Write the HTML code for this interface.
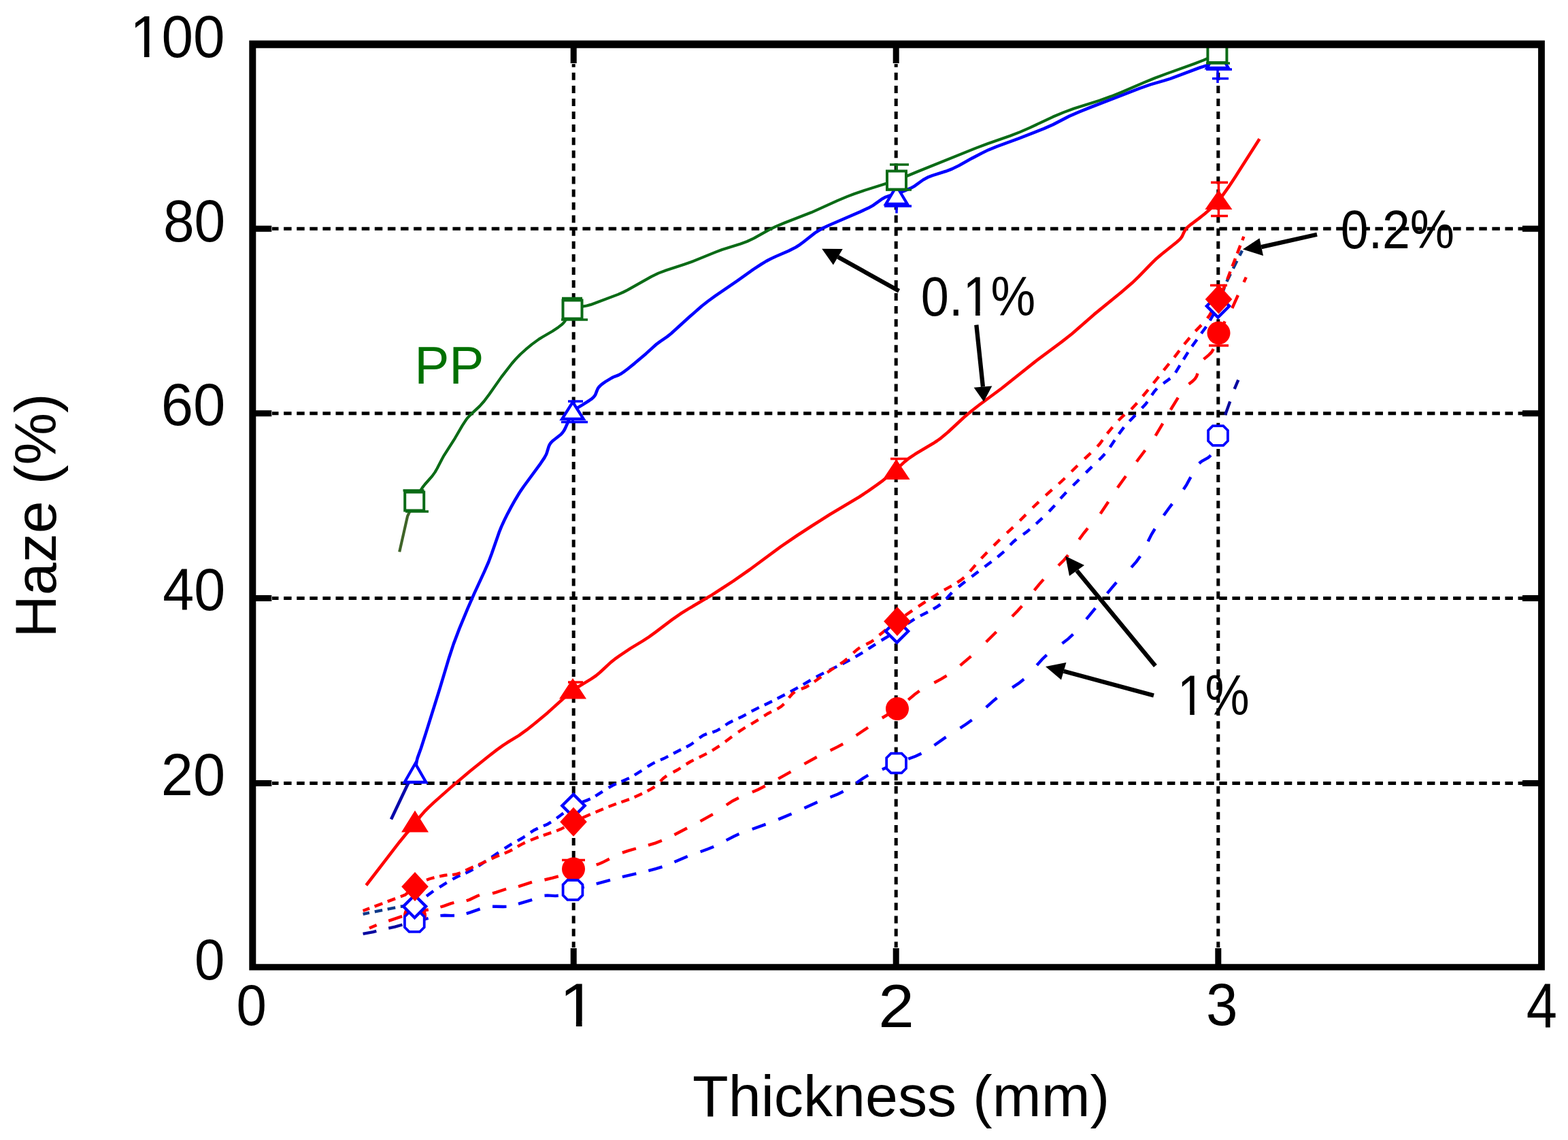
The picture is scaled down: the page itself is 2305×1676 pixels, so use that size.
<!DOCTYPE html>
<html><head><meta charset="utf-8"><title>Haze vs Thickness</title><style>html,body{margin:0;padding:0;background:#fff;overflow:hidden}svg{display:block}</style></head><body>
<svg xmlns="http://www.w3.org/2000/svg" width="2305" height="1676" viewBox="0 0 2305 1676" font-family="'Liberation Sans', Arial, sans-serif" font-size="100">
<defs><clipPath id="k0" clipPathUnits="userSpaceOnUse"><path clip-rule="evenodd" d="M-100,-200H1200V200H-100ZM6.50,-8.3H25.10V2H6.50ZM34.00,-8.3H52.00V2H34.00Z"/></clipPath><clipPath id="k1" clipPathUnits="userSpaceOnUse"><path clip-rule="evenodd" d="M-100,-200H1200V200H-100ZM6.50,-8.3H25.10V2H6.50ZM34.00,-8.3H52.00V2H34.00Z"/></clipPath><clipPath id="k2" clipPathUnits="userSpaceOnUse"><path clip-rule="evenodd" d="M-100,-200H1200V200H-100ZM89.90,-8.3H108.50V2H89.90ZM117.40,-8.3H135.40V2H117.40Z"/></clipPath><clipPath id="k3" clipPathUnits="userSpaceOnUse"><path clip-rule="evenodd" d="M-100,-200H1200V200H-100ZM6.50,-8.3H25.10V2H6.50ZM34.00,-8.3H52.00V2H34.00Z"/></clipPath></defs>
<rect width="2305" height="1676" fill="#fff"/>
<path d="M400.0,336.2H409.5M417.1,336.2H428.6M436.2,336.2H447.7M455.3,336.2H466.8M474.4,336.2H485.9M493.5,336.2H505.0M512.6,336.2H524.1M531.7,336.2H543.2M550.8,336.2H562.3M569.9,336.2H581.4M589.0,336.2H600.5M608.1,336.2H619.6M627.2,336.2H638.7M646.3,336.2H657.8M665.4,336.2H676.9M684.5,336.2H696.0M703.6,336.2H715.1M722.7,336.2H734.2M741.8,336.2H753.3M760.9,336.2H772.4M780.0,336.2H791.5M799.1,336.2H810.6M818.2,336.2H829.7M837.3,336.2H848.8M856.4,336.2H867.9M875.5,336.2H887.0M894.6,336.2H906.1M913.7,336.2H925.2M932.8,336.2H944.3M951.9,336.2H963.4M971.0,336.2H982.5M990.1,336.2H1001.6M1009.2,336.2H1020.7M1028.3,336.2H1039.8M1047.4,336.2H1058.9M1066.5,336.2H1078.0M1085.6,336.2H1097.1M1104.7,336.2H1116.2M1123.8,336.2H1135.3M1142.9,336.2H1154.4M1162.0,336.2H1173.5M1181.1,336.2H1192.6M1200.2,336.2H1211.7M1219.3,336.2H1230.8M1238.4,336.2H1249.9M1257.5,336.2H1269.0M1276.6,336.2H1288.1M1295.7,336.2H1307.2M1314.8,336.2H1326.3M1333.9,336.2H1345.4M1353.0,336.2H1364.5M1372.1,336.2H1383.6M1391.2,336.2H1402.7M1410.3,336.2H1421.8M1429.4,336.2H1440.9M1448.5,336.2H1460.0M1467.6,336.2H1479.1M1486.7,336.2H1498.2M1505.8,336.2H1517.3M1524.9,336.2H1536.4M1544.0,336.2H1555.5M1563.1,336.2H1574.6M1582.2,336.2H1593.7M1601.3,336.2H1612.8M1620.4,336.2H1631.9M1639.5,336.2H1651.0M1658.6,336.2H1670.1M1677.7,336.2H1689.2M1696.8,336.2H1708.3M1715.9,336.2H1727.4M1735.0,336.2H1746.5M1754.1,336.2H1765.6M1773.2,336.2H1784.7M1792.3,336.2H1803.8M1811.4,336.2H1822.9M1830.5,336.2H1842.0M1849.6,336.2H1861.1M1868.7,336.2H1880.2M1887.8,336.2H1899.3M1906.9,336.2H1918.4M1926.0,336.2H1937.5M1945.1,336.2H1956.6M1964.2,336.2H1975.7M1983.3,336.2H1994.8M2002.4,336.2H2013.9M2021.5,336.2H2033.0M2040.6,336.2H2052.1M2059.7,336.2H2071.2M2078.8,336.2H2090.3M2097.9,336.2H2109.4M2117.0,336.2H2128.5M2136.1,336.2H2147.6M2155.2,336.2H2166.7M2174.3,336.2H2185.8M2193.4,336.2H2204.9M2212.5,336.2H2224.0M2231.6,336.2H2238.0M400.0,607.8H409.5M417.1,607.8H428.6M436.2,607.8H447.7M455.3,607.8H466.8M474.4,607.8H485.9M493.5,607.8H505.0M512.6,607.8H524.1M531.7,607.8H543.2M550.8,607.8H562.3M569.9,607.8H581.4M589.0,607.8H600.5M608.1,607.8H619.6M627.2,607.8H638.7M646.3,607.8H657.8M665.4,607.8H676.9M684.5,607.8H696.0M703.6,607.8H715.1M722.7,607.8H734.2M741.8,607.8H753.3M760.9,607.8H772.4M780.0,607.8H791.5M799.1,607.8H810.6M818.2,607.8H829.7M837.3,607.8H848.8M856.4,607.8H867.9M875.5,607.8H887.0M894.6,607.8H906.1M913.7,607.8H925.2M932.8,607.8H944.3M951.9,607.8H963.4M971.0,607.8H982.5M990.1,607.8H1001.6M1009.2,607.8H1020.7M1028.3,607.8H1039.8M1047.4,607.8H1058.9M1066.5,607.8H1078.0M1085.6,607.8H1097.1M1104.7,607.8H1116.2M1123.8,607.8H1135.3M1142.9,607.8H1154.4M1162.0,607.8H1173.5M1181.1,607.8H1192.6M1200.2,607.8H1211.7M1219.3,607.8H1230.8M1238.4,607.8H1249.9M1257.5,607.8H1269.0M1276.6,607.8H1288.1M1295.7,607.8H1307.2M1314.8,607.8H1326.3M1333.9,607.8H1345.4M1353.0,607.8H1364.5M1372.1,607.8H1383.6M1391.2,607.8H1402.7M1410.3,607.8H1421.8M1429.4,607.8H1440.9M1448.5,607.8H1460.0M1467.6,607.8H1479.1M1486.7,607.8H1498.2M1505.8,607.8H1517.3M1524.9,607.8H1536.4M1544.0,607.8H1555.5M1563.1,607.8H1574.6M1582.2,607.8H1593.7M1601.3,607.8H1612.8M1620.4,607.8H1631.9M1639.5,607.8H1651.0M1658.6,607.8H1670.1M1677.7,607.8H1689.2M1696.8,607.8H1708.3M1715.9,607.8H1727.4M1735.0,607.8H1746.5M1754.1,607.8H1765.6M1773.2,607.8H1784.7M1792.3,607.8H1803.8M1811.4,607.8H1822.9M1830.5,607.8H1842.0M1849.6,607.8H1861.1M1868.7,607.8H1880.2M1887.8,607.8H1899.3M1906.9,607.8H1918.4M1926.0,607.8H1937.5M1945.1,607.8H1956.6M1964.2,607.8H1975.7M1983.3,607.8H1994.8M2002.4,607.8H2013.9M2021.5,607.8H2033.0M2040.6,607.8H2052.1M2059.7,607.8H2071.2M2078.8,607.8H2090.3M2097.9,607.8H2109.4M2117.0,607.8H2128.5M2136.1,607.8H2147.6M2155.2,607.8H2166.7M2174.3,607.8H2185.8M2193.4,607.8H2204.9M2212.5,607.8H2224.0M2231.6,607.8H2238.0M400.0,879.6H409.5M417.1,879.6H428.6M436.2,879.6H447.7M455.3,879.6H466.8M474.4,879.6H485.9M493.5,879.6H505.0M512.6,879.6H524.1M531.7,879.6H543.2M550.8,879.6H562.3M569.9,879.6H581.4M589.0,879.6H600.5M608.1,879.6H619.6M627.2,879.6H638.7M646.3,879.6H657.8M665.4,879.6H676.9M684.5,879.6H696.0M703.6,879.6H715.1M722.7,879.6H734.2M741.8,879.6H753.3M760.9,879.6H772.4M780.0,879.6H791.5M799.1,879.6H810.6M818.2,879.6H829.7M837.3,879.6H848.8M856.4,879.6H867.9M875.5,879.6H887.0M894.6,879.6H906.1M913.7,879.6H925.2M932.8,879.6H944.3M951.9,879.6H963.4M971.0,879.6H982.5M990.1,879.6H1001.6M1009.2,879.6H1020.7M1028.3,879.6H1039.8M1047.4,879.6H1058.9M1066.5,879.6H1078.0M1085.6,879.6H1097.1M1104.7,879.6H1116.2M1123.8,879.6H1135.3M1142.9,879.6H1154.4M1162.0,879.6H1173.5M1181.1,879.6H1192.6M1200.2,879.6H1211.7M1219.3,879.6H1230.8M1238.4,879.6H1249.9M1257.5,879.6H1269.0M1276.6,879.6H1288.1M1295.7,879.6H1307.2M1314.8,879.6H1326.3M1333.9,879.6H1345.4M1353.0,879.6H1364.5M1372.1,879.6H1383.6M1391.2,879.6H1402.7M1410.3,879.6H1421.8M1429.4,879.6H1440.9M1448.5,879.6H1460.0M1467.6,879.6H1479.1M1486.7,879.6H1498.2M1505.8,879.6H1517.3M1524.9,879.6H1536.4M1544.0,879.6H1555.5M1563.1,879.6H1574.6M1582.2,879.6H1593.7M1601.3,879.6H1612.8M1620.4,879.6H1631.9M1639.5,879.6H1651.0M1658.6,879.6H1670.1M1677.7,879.6H1689.2M1696.8,879.6H1708.3M1715.9,879.6H1727.4M1735.0,879.6H1746.5M1754.1,879.6H1765.6M1773.2,879.6H1784.7M1792.3,879.6H1803.8M1811.4,879.6H1822.9M1830.5,879.6H1842.0M1849.6,879.6H1861.1M1868.7,879.6H1880.2M1887.8,879.6H1899.3M1906.9,879.6H1918.4M1926.0,879.6H1937.5M1945.1,879.6H1956.6M1964.2,879.6H1975.7M1983.3,879.6H1994.8M2002.4,879.6H2013.9M2021.5,879.6H2033.0M2040.6,879.6H2052.1M2059.7,879.6H2071.2M2078.8,879.6H2090.3M2097.9,879.6H2109.4M2117.0,879.6H2128.5M2136.1,879.6H2147.6M2155.2,879.6H2166.7M2174.3,879.6H2185.8M2193.4,879.6H2204.9M2212.5,879.6H2224.0M2231.6,879.6H2238.0M400.0,1151.4H409.5M417.1,1151.4H428.6M436.2,1151.4H447.7M455.3,1151.4H466.8M474.4,1151.4H485.9M493.5,1151.4H505.0M512.6,1151.4H524.1M531.7,1151.4H543.2M550.8,1151.4H562.3M569.9,1151.4H581.4M589.0,1151.4H600.5M608.1,1151.4H619.6M627.2,1151.4H638.7M646.3,1151.4H657.8M665.4,1151.4H676.9M684.5,1151.4H696.0M703.6,1151.4H715.1M722.7,1151.4H734.2M741.8,1151.4H753.3M760.9,1151.4H772.4M780.0,1151.4H791.5M799.1,1151.4H810.6M818.2,1151.4H829.7M837.3,1151.4H848.8M856.4,1151.4H867.9M875.5,1151.4H887.0M894.6,1151.4H906.1M913.7,1151.4H925.2M932.8,1151.4H944.3M951.9,1151.4H963.4M971.0,1151.4H982.5M990.1,1151.4H1001.6M1009.2,1151.4H1020.7M1028.3,1151.4H1039.8M1047.4,1151.4H1058.9M1066.5,1151.4H1078.0M1085.6,1151.4H1097.1M1104.7,1151.4H1116.2M1123.8,1151.4H1135.3M1142.9,1151.4H1154.4M1162.0,1151.4H1173.5M1181.1,1151.4H1192.6M1200.2,1151.4H1211.7M1219.3,1151.4H1230.8M1238.4,1151.4H1249.9M1257.5,1151.4H1269.0M1276.6,1151.4H1288.1M1295.7,1151.4H1307.2M1314.8,1151.4H1326.3M1333.9,1151.4H1345.4M1353.0,1151.4H1364.5M1372.1,1151.4H1383.6M1391.2,1151.4H1402.7M1410.3,1151.4H1421.8M1429.4,1151.4H1440.9M1448.5,1151.4H1460.0M1467.6,1151.4H1479.1M1486.7,1151.4H1498.2M1505.8,1151.4H1517.3M1524.9,1151.4H1536.4M1544.0,1151.4H1555.5M1563.1,1151.4H1574.6M1582.2,1151.4H1593.7M1601.3,1151.4H1612.8M1620.4,1151.4H1631.9M1639.5,1151.4H1651.0M1658.6,1151.4H1670.1M1677.7,1151.4H1689.2M1696.8,1151.4H1708.3M1715.9,1151.4H1727.4M1735.0,1151.4H1746.5M1754.1,1151.4H1765.6M1773.2,1151.4H1784.7M1792.3,1151.4H1803.8M1811.4,1151.4H1822.9M1830.5,1151.4H1842.0M1849.6,1151.4H1861.1M1868.7,1151.4H1880.2M1887.8,1151.4H1899.3M1906.9,1151.4H1918.4M1926.0,1151.4H1937.5M1945.1,1151.4H1956.6M1964.2,1151.4H1975.7M1983.3,1151.4H1994.8M2002.4,1151.4H2013.9M2021.5,1151.4H2033.0M2040.6,1151.4H2052.1M2059.7,1151.4H2071.2M2078.8,1151.4H2090.3M2097.9,1151.4H2109.4M2117.0,1151.4H2128.5M2136.1,1151.4H2147.6M2155.2,1151.4H2166.7M2174.3,1151.4H2185.8M2193.4,1151.4H2204.9M2212.5,1151.4H2224.0M2231.6,1151.4H2238.0M843.2,94.0V98.8M843.2,106.8V117.8M843.2,125.9V136.9M843.2,145.0V156.0M843.2,164.1V175.1M843.2,183.1V194.1M843.2,202.2V213.2M843.2,221.3V232.3M843.2,240.3V251.3M843.2,259.4V270.4M843.2,278.5V289.5M843.2,297.6V308.6M843.2,316.6V327.6M843.2,335.7V346.7M843.2,354.8V365.8M843.2,373.8V384.8M843.2,392.9V403.9M843.2,412.0V423.0M843.2,431.0V442.0M843.2,450.1V461.1M843.2,469.2V480.2M843.2,488.2V499.2M843.2,507.3V518.3M843.2,526.4V537.4M843.2,545.5V556.5M843.2,564.5V575.5M843.2,583.6V594.6M843.2,602.7V613.7M843.2,621.7V632.7M843.2,640.8V651.8M843.2,659.9V670.9M843.2,679.0V690.0M843.2,698.0V709.0M843.2,717.1V728.1M843.2,736.2V747.2M843.2,755.2V766.2M843.2,774.3V785.3M843.2,793.4V804.4M843.2,812.4V823.4M843.2,831.5V842.5M843.2,850.6V861.6M843.2,869.6V880.6M843.2,888.7V899.7M843.2,907.8V918.8M843.2,926.9V937.9M843.2,945.9V956.9M843.2,965.0V976.0M843.2,984.1V995.1M843.2,1003.1V1014.1M843.2,1022.2V1033.2M843.2,1041.3V1052.3M843.2,1060.3V1071.3M843.2,1079.4V1090.4M843.2,1098.5V1109.5M843.2,1117.6V1128.6M843.2,1136.6V1147.6M843.2,1155.7V1166.7M843.2,1174.8V1185.8M843.2,1193.8V1204.8M843.2,1212.9V1223.9M843.2,1232.0V1243.0M843.2,1251.0V1262.0M843.2,1270.1V1281.1M843.2,1289.2V1300.2M843.2,1308.3V1319.3M843.2,1327.3V1338.3M843.2,1346.4V1357.4M843.2,1365.5V1376.5M843.2,1384.5V1393.0M1317.2,94.0V98.8M1317.2,106.8V117.8M1317.2,125.9V136.9M1317.2,145.0V156.0M1317.2,164.1V175.1M1317.2,183.1V194.1M1317.2,202.2V213.2M1317.2,221.3V232.3M1317.2,240.3V251.3M1317.2,259.4V270.4M1317.2,278.5V289.5M1317.2,297.6V308.6M1317.2,316.6V327.6M1317.2,335.7V346.7M1317.2,354.8V365.8M1317.2,373.8V384.8M1317.2,392.9V403.9M1317.2,412.0V423.0M1317.2,431.0V442.0M1317.2,450.1V461.1M1317.2,469.2V480.2M1317.2,488.2V499.2M1317.2,507.3V518.3M1317.2,526.4V537.4M1317.2,545.5V556.5M1317.2,564.5V575.5M1317.2,583.6V594.6M1317.2,602.7V613.7M1317.2,621.7V632.7M1317.2,640.8V651.8M1317.2,659.9V670.9M1317.2,679.0V690.0M1317.2,698.0V709.0M1317.2,717.1V728.1M1317.2,736.2V747.2M1317.2,755.2V766.2M1317.2,774.3V785.3M1317.2,793.4V804.4M1317.2,812.4V823.4M1317.2,831.5V842.5M1317.2,850.6V861.6M1317.2,869.6V880.6M1317.2,888.7V899.7M1317.2,907.8V918.8M1317.2,926.9V937.9M1317.2,945.9V956.9M1317.2,965.0V976.0M1317.2,984.1V995.1M1317.2,1003.1V1014.1M1317.2,1022.2V1033.2M1317.2,1041.3V1052.3M1317.2,1060.3V1071.3M1317.2,1079.4V1090.4M1317.2,1098.5V1109.5M1317.2,1117.6V1128.6M1317.2,1136.6V1147.6M1317.2,1155.7V1166.7M1317.2,1174.8V1185.8M1317.2,1193.8V1204.8M1317.2,1212.9V1223.9M1317.2,1232.0V1243.0M1317.2,1251.0V1262.0M1317.2,1270.1V1281.1M1317.2,1289.2V1300.2M1317.2,1308.3V1319.3M1317.2,1327.3V1338.3M1317.2,1346.4V1357.4M1317.2,1365.5V1376.5M1317.2,1384.5V1393.0M1790.8,94.0V98.8M1790.8,106.8V117.8M1790.8,125.9V136.9M1790.8,145.0V156.0M1790.8,164.1V175.1M1790.8,183.1V194.1M1790.8,202.2V213.2M1790.8,221.3V232.3M1790.8,240.3V251.3M1790.8,259.4V270.4M1790.8,278.5V289.5M1790.8,297.6V308.6M1790.8,316.6V327.6M1790.8,335.7V346.7M1790.8,354.8V365.8M1790.8,373.8V384.8M1790.8,392.9V403.9M1790.8,412.0V423.0M1790.8,431.0V442.0M1790.8,450.1V461.1M1790.8,469.2V480.2M1790.8,488.2V499.2M1790.8,507.3V518.3M1790.8,526.4V537.4M1790.8,545.5V556.5M1790.8,564.5V575.5M1790.8,583.6V594.6M1790.8,602.7V613.7M1790.8,621.7V632.7M1790.8,640.8V651.8M1790.8,659.9V670.9M1790.8,679.0V690.0M1790.8,698.0V709.0M1790.8,717.1V728.1M1790.8,736.2V747.2M1790.8,755.2V766.2M1790.8,774.3V785.3M1790.8,793.4V804.4M1790.8,812.4V823.4M1790.8,831.5V842.5M1790.8,850.6V861.6M1790.8,869.6V880.6M1790.8,888.7V899.7M1790.8,907.8V918.8M1790.8,926.9V937.9M1790.8,945.9V956.9M1790.8,965.0V976.0M1790.8,984.1V995.1M1790.8,1003.1V1014.1M1790.8,1022.2V1033.2M1790.8,1041.3V1052.3M1790.8,1060.3V1071.3M1790.8,1079.4V1090.4M1790.8,1098.5V1109.5M1790.8,1117.6V1128.6M1790.8,1136.6V1147.6M1790.8,1155.7V1166.7M1790.8,1174.8V1185.8M1790.8,1193.8V1204.8M1790.8,1212.9V1223.9M1790.8,1232.0V1243.0M1790.8,1251.0V1262.0M1790.8,1270.1V1281.1M1790.8,1289.2V1300.2M1790.8,1308.3V1319.3M1790.8,1327.3V1338.3M1790.8,1346.4V1357.4M1790.8,1365.5V1376.5M1790.8,1384.5V1393.0" stroke="#000" stroke-width="5" fill="none"/>
<path d="M543.0,1364.5L553.6,1359.9M571.2,1353.8L591.1,1347.1M1791.0,491.1L1791.5,489.5L1800.7,472.5M1811.3,453.1L1819.9,434.0M1828.5,414.8L1831.8,407.6" stroke="#ff0000" stroke-width="4.4" fill="none"/>
<path d="M609.4,1341.2L629.8,1337.3M647.4,1333.5L652.2,1332.1L662.5,1328.4L667.4,1327.0M685.7,1324.3L690.5,1322.6L701.1,1317.5L704.9,1316.0M724.0,1313.3L729.3,1311.8L744.1,1307.0M762.0,1303.4L782.0,1296.9M800.5,1293.5L812.6,1290.7L820.8,1288.3M838.6,1279.3L843.0,1277.5L846.6,1276.5L851.3,1275.6L858.9,1274.5M876.7,1271.4L880.8,1270.0L885.3,1268.1L895.8,1262.8M914.9,1253.7L923.9,1250.6L934.9,1247.5M953.0,1242.6L963.7,1239.3L972.9,1235.8M991.4,1227.2L1010.0,1217.5M1029.5,1207.4L1047.9,1197.2M1067.8,1183.5L1077.1,1177.5L1085.9,1173.0M1105.9,1164.6L1114.1,1161.0L1124.8,1155.5M1144.2,1144.9L1162.5,1134.6M1182.4,1123.2L1200.7,1113.0M1220.6,1103.3L1231.0,1098.1L1239.2,1093.7M1258.6,1081.3L1276.0,1069.5M1296.8,1055.5L1314.9,1044.7M1335.2,1028.9L1344.5,1021.1L1351.6,1015.8M1373.3,1003.7L1383.8,998.2L1391.6,993.4M1411.5,978.4L1427.4,964.8M1449.7,943.8L1464.6,929.0M1487.9,906.3L1496.0,898.0L1502.3,891.0M1520.5,867.9L1527.4,859.3L1534.0,851.9M1555.9,831.5L1564.0,823.5L1570.2,816.1M1586.3,793.3L1593.2,783.8L1599.0,776.6M1617.6,755.2L1629.3,737.7M1642.8,717.0L1655.0,700.0M1670.8,678.7L1683.4,662.0M1698.6,640.6L1709.3,622.6M1720.8,602.5L1731.8,584.6M1747.6,564.8L1753.3,560.3L1756.8,556.8L1759.0,553.4L1760.5,549.0M1769.5,528.1L1776.7,522.1L1779.7,519.2L1781.6,516.9L1783.8,513.0" stroke="#ff0000" stroke-width="4.4" fill="none"/>
<path d="M533.6,1372.9L548.6,1370.1L553.3,1368.9M571.2,1364.6L580.6,1362.6L591.5,1359.5M1801.1,610.0L1808.2,590.3M1814.7,571.8L1820.3,558.6" stroke="#0808a0" stroke-width="4.4" fill="none"/>
<path d="M609.3,1355.5L629.6,1350.0M647.4,1346.1L653.6,1345.7L663.8,1346.1L668.0,1346.0M685.7,1343.1L691.4,1341.3L705.6,1336.3M724.0,1332.7L729.3,1332.7L739.6,1333.0L744.5,1332.9M762.0,1328.8L782.2,1322.9M800.5,1316.8L804.8,1316.4L816.3,1317.1L820.8,1316.8M838.6,1309.7L846.3,1307.1L858.7,1303.8M876.7,1299.3L897.0,1293.9M914.9,1289.2L935.3,1284.4M953.3,1280.2L964.4,1277.2L973.5,1274.4M991.4,1267.2L1010.7,1258.9M1029.6,1252.2L1041.1,1248.0L1049.2,1244.7M1067.7,1235.4L1078.5,1229.8L1086.5,1226.1M1105.8,1219.0L1125.6,1211.9M1144.2,1204.6L1163.6,1196.5M1182.4,1188.0L1201.6,1179.3M1220.5,1172.0L1231.7,1167.5L1239.7,1163.6M1258.7,1151.3L1268.9,1144.2L1276.2,1139.7M1296.9,1131.2L1316.1,1122.6M1335.2,1115.8L1346.0,1111.7L1354.5,1107.7M1373.4,1095.7L1390.6,1083.6M1411.5,1070.4L1420.4,1064.5L1428.7,1058.4M1449.7,1039.9L1458.3,1032.1L1465.5,1026.0M1488.1,1010.8L1497.8,1004.4L1505.2,998.6M1524.2,978.0L1532.0,969.2L1538.7,962.8M1561.5,946.1L1570.4,939.2L1577.5,932.5M1596.9,910.4L1610.2,894.2M1627.7,872.4L1635.1,863.4L1641.2,856.3M1663.1,834.1L1670.6,825.6L1676.2,817.7M1687.6,795.9L1692.7,785.8L1697.7,777.5M1710.7,757.8L1717.9,747.7L1723.1,740.9M1739.8,719.5L1744.3,712.6L1750.4,701.4M1762.8,681.4L1764.5,679.8L1767.1,677.8L1776.0,672.8L1778.4,670.9L1779.8,669.3M1788.0,648.2L1789.8,642.5L1794.7,628.3" stroke="#0000ff" stroke-width="4.4" fill="none"/>
<path d="M533.6,1343.8L543.0,1341.9M550.8,1340.4L562.1,1338.1M569.6,1336.6L581.2,1334.3M588.7,1332.8L600.5,1331.7M1796.3,433.1L1800.1,421.7M1803.3,413.9L1808.9,402.7M1812.8,394.8L1818.4,383.6M1822.3,375.7L1826.0,368.4" stroke="#0f3a8a" stroke-width="4.4" fill="none"/>
<path d="M608.1,1331.1L610.0,1331.0L618.3,1324.4M627.0,1317.5L637.1,1310.1M646.1,1304.3L656.7,1297.7M665.3,1292.6L672.0,1289.0L676.4,1286.9M684.3,1283.7L689.9,1281.1L695.4,1278.0M703.4,1273.1L713.8,1266.2M722.6,1260.3L732.9,1253.4M741.8,1247.4L752.4,1240.7M760.8,1236.1L767.1,1232.5L771.6,1229.7M779.9,1223.8L785.1,1220.5L790.7,1217.7M798.9,1214.3L804.9,1211.7L810.0,1208.7M818.2,1203.0L828.2,1195.5M837.2,1188.3L843.0,1184.5L848.0,1182.1M856.2,1179.0L862.8,1176.6L867.7,1174.5M875.3,1170.3L885.8,1163.6M894.6,1158.1L900.0,1155.0L905.7,1152.3M913.5,1149.0L924.9,1143.9M932.8,1139.5L943.3,1132.8M951.8,1127.2L958.1,1123.3L962.6,1120.9M970.9,1117.3L976.0,1115.1L982.2,1111.9M990.0,1107.7L1001.1,1102.0M1008.9,1098.3L1015.0,1095.0L1019.5,1091.8M1028.1,1084.9L1034.0,1081.0L1039.0,1078.9M1047.3,1076.6L1052.9,1074.6L1058.6,1071.5M1066.5,1066.0L1071.1,1063.0L1077.3,1059.8M1085.5,1056.1L1091.0,1053.5L1096.7,1050.4M1104.7,1045.8L1115.8,1040.1M1123.8,1036.5L1135.0,1031.0M1142.7,1027.0L1153.8,1021.2M1162.0,1017.0L1172.9,1010.9M1180.8,1006.3L1191.6,1000.0M1199.9,995.2L1211.0,989.4M1219.1,985.4L1230.3,979.9M1238.3,976.0L1249.3,970.2M1257.5,965.7L1268.2,959.3M1276.5,953.9L1287.0,947.1M1295.6,941.5L1306.3,935.1M1314.6,930.4L1319.3,927.5L1325.0,923.5M1333.9,917.0L1344.3,910.1M1352.9,905.4L1364.0,899.7M1371.9,895.4L1378.2,891.6L1382.4,888.6M1390.9,880.4L1399.3,871.2M1409.1,862.8L1418.9,855.1M1428.4,847.8L1438.3,840.2M1447.5,833.2L1457.5,825.7M1466.4,819.0L1476.0,810.9M1485.0,801.3L1489.5,796.7L1494.1,792.8M1504.0,785.8L1508.9,782.2L1513.9,778.1M1523.1,770.1L1532.3,761.7M1542.1,752.0L1550.6,742.9M1558.9,733.0L1567.4,723.7M1577.4,713.8L1586.3,705.0M1596.3,694.9L1605.2,686.1M1615.6,676.3L1620.1,671.8L1624.2,667.2M1631.7,657.4L1638.7,647.1M1644.7,638.1L1652.2,628.1M1660.3,619.2L1669.0,610.2M1678.6,600.1L1683.7,594.5L1686.8,590.6M1693.1,580.9L1697.0,575.4L1700.8,571.1M1710.1,563.7L1720.2,556.4M1728.0,547.8L1734.5,537.1M1739.8,528.5L1746.4,517.9M1752.2,509.4L1759.5,499.2M1765.9,490.3L1773.2,480.2M1778.7,471.3L1784.8,460.4M1789.3,452.1L1790.5,450.0L1793.6,440.8" stroke="#0000ff" stroke-width="4.4" fill="none"/>
<path d="M533.6,1339.0L543.2,1335.4M550.6,1332.6L562.3,1328.2M569.7,1325.4L581.1,1321.1M588.8,1318.2L595.6,1315.6L599.6,1312.2M1796.0,429.9L1801.1,418.5M1804.2,410.7L1808.5,399.3M1811.5,391.6L1816.0,380.0M1818.8,372.6L1823.3,360.9M1826.3,353.2L1828.4,347.7" stroke="#ff0000" stroke-width="4.4" fill="none"/>
<path d="M608.0,1305.1L610.0,1303.4L618.4,1298.3M627.0,1293.8L631.7,1292.0L638.5,1290.1M646.1,1288.3L653.0,1287.0L657.5,1286.4M665.1,1286.1L671.0,1285.2L676.8,1283.3M684.4,1279.7L690.1,1276.9L695.7,1274.4M703.5,1271.2L714.8,1266.2M722.6,1262.4L729.0,1259.4L734.0,1257.4M741.7,1254.5L748.1,1251.8L753.1,1249.3M760.8,1244.7L766.2,1241.6L771.8,1238.8M779.9,1235.2L791.5,1230.6M798.8,1228.1L810.3,1224.1M818.1,1221.5L824.1,1219.1L829.4,1216.4M837.1,1211.6L842.0,1208.8L848.2,1205.8M856.3,1202.2L867.8,1197.3M875.5,1194.1L886.9,1189.2M894.5,1186.0L905.9,1181.7M913.4,1179.3L925.0,1175.1M932.6,1171.9L944.0,1166.8M951.6,1163.0L957.7,1159.6L962.4,1156.6M970.6,1148.7L975.4,1143.9L980.0,1140.6M989.6,1135.3L995.6,1132.0L1000.4,1129.0M1008.7,1123.5L1014.5,1120.0L1019.6,1117.4M1027.8,1113.5L1038.9,1107.9M1047.0,1103.4L1057.6,1096.7M1066.0,1090.5L1076.0,1083.1M1085.1,1076.3L1095.6,1069.5M1104.1,1064.6L1114.8,1058.2M1123.2,1052.6L1129.0,1049.0L1134.0,1046.4M1142.5,1042.3L1148.2,1038.8L1152.5,1034.9M1159.7,1025.9L1164.6,1020.2L1168.4,1017.1M1177.9,1012.9L1184.2,1010.4L1189.2,1007.6M1197.0,1002.2L1207.2,995.0M1216.1,988.8L1226.4,981.7M1235.3,976.0L1240.8,972.2L1245.4,968.6M1254.5,959.9L1259.7,955.2L1264.1,952.0M1273.3,947.3L1279.8,944.0L1284.2,941.1M1292.6,933.7L1302.3,925.9M1311.6,918.8L1321.6,911.4M1330.8,904.7L1341.1,897.6M1350.0,891.6L1360.5,884.7M1369.0,879.2L1379.5,872.5M1388.0,867.4L1398.9,861.3M1407.2,856.4L1412.7,852.7L1417.3,849.0M1425.9,840.2L1434.0,830.6M1442.5,821.1L1451.1,812.0M1460.9,802.1L1469.8,793.3M1480.1,783.7L1489.3,775.2M1499.2,765.5L1508.0,756.6M1518.0,746.5L1527.0,737.8M1537.2,728.3L1546.5,719.9M1556.3,711.5L1565.4,703.0M1575.1,693.2L1584.0,684.5M1594.3,674.7L1603.3,666.1M1613.1,656.5L1616.7,652.5L1620.9,646.8M1627.6,637.5L1635.5,627.9M1644.1,618.3L1648.8,613.5L1653.2,609.7M1663.0,601.7L1671.5,592.5M1679.9,582.5L1687.9,572.9M1695.6,563.4L1703.4,553.6M1710.7,544.4L1718.6,534.7M1726.2,525.3L1733.8,515.4M1740.9,506.2L1748.9,496.5M1757.3,486.9L1766.0,477.9M1774.9,468.0L1778.2,463.2L1781.7,457.5M1786.6,448.7L1791.5,440.0L1792.5,437.7" stroke="#ff0000" stroke-width="4.4" fill="none"/>
<path d="M538.3,1301.5L587.4,1237.7L598.4,1224.3L610.0,1212.0L611.8,1209.6L617.6,1200.4L623.5,1193.7L630.2,1186.9L638.2,1179.4L662.2,1158.1L690.9,1133.7L718.3,1111.7L730.4,1102.4L739.4,1095.9L745.6,1091.8L762.7,1081.4L774.1,1073.2L787.2,1062.7L805.0,1047.9L835.9,1020.0L840.5,1016.2L847.1,1011.5L868.8,998.4L876.0,993.5L882.0,988.5L898.0,973.6L903.6,969.2L911.0,963.8L927.0,953.1L944.8,942.4L953.7,936.6L963.7,929.4L987.8,911.2L1000.4,902.3L1012.4,894.9L1044.3,876.1L1061.1,865.3L1077.8,854.3L1102.0,837.5L1147.8,803.6L1172.2,787.0L1194.5,772.5L1220.1,756.3L1263.3,730.5L1276.3,721.9L1288.7,713.2L1298.0,706.3L1306.2,699.7L1319.1,688.7L1329.8,678.9L1336.5,673.5L1345.4,667.6L1371.5,652.1L1377.7,648.0L1383.5,643.8L1393.4,635.5L1417.1,613.5L1428.7,603.7L1440.6,594.5L1472.4,571.0L1521.8,531.6L1561.0,502.4L1575.8,490.7L1608.2,462.4L1647.9,430.0L1664.4,415.8L1673.7,406.9L1692.9,387.1L1700.0,380.2L1707.6,373.7L1729.8,356.0L1734.1,352.1L1736.0,350.0L1737.8,347.4L1740.7,341.0L1742.2,338.3L1743.5,336.5L1746.0,333.8L1750.8,329.8L1762.4,321.1L1771.1,314.2L1781.1,305.6L1786.4,300.6L1790.5,296.0L1794.9,290.6L1805.9,275.2L1816.6,258.9L1851.5,204.2" stroke="#ff0000" stroke-width="4.6" fill="none" stroke-linejoin="round"/>
<path d="M575.0,1204.6L599.4,1152.9L610.7,1136.0" stroke="#0606aa" stroke-width="4.6" fill="none" stroke-linejoin="round"/>
<path d="M610.7,1136.0L612.1,1121.9L612.8,1118.0L613.8,1114.1L618.9,1100.0L626.4,1076.6L646.8,1011.4L660.2,966.7L666.7,946.9L675.4,923.9L687.4,894.8L697.0,872.8L711.9,840.6L718.3,826.0L722.6,814.5L733.6,782.9L736.9,774.6L741.2,765.2L746.4,754.8L751.8,744.7L757.7,734.2L763.7,724.2L770.0,715.0L794.7,681.3L800.2,673.1L803.0,668.0L804.1,664.9L806.7,656.4L807.9,653.7L809.0,652.0L810.8,649.8L813.0,647.7L824.5,638.7L827.0,636.0L828.9,633.3L830.9,629.6L834.7,621.1L838.9,610.3L841.4,605.8L843.4,603.5L846.6,601.0L855.6,595.6L866.4,588.7L869.9,586.3L872.2,584.3L874.1,582.1L875.2,580.3L877.8,573.6L879.1,570.8L880.4,569.0L883.1,566.3L886.5,563.6L890.1,561.1L899.2,555.6L902.9,553.8L909.2,551.5L912.4,549.8L917.1,546.6L922.6,542.5L933.0,534.1L949.7,519.9L965.3,505.8L970.0,502.3L980.6,495.1L986.7,490.2L1013.6,465.8L1031.6,450.0L1040.5,443.0L1051.3,435.1L1084.2,412.6L1107.3,396.2L1119.0,388.5L1126.6,383.9L1133.0,380.5L1140.5,377.0L1159.3,368.9L1169.9,363.5L1174.2,360.8L1179.2,357.2L1198.1,342.4L1203.0,339.2L1209.1,335.7L1219.0,331.0L1264.5,311.4L1276.2,305.9L1283.9,301.7L1295.8,293.1L1300.8,290.2L1305.8,288.3L1318.0,285.0L1329.4,280.7L1338.2,276.9L1344.6,273.4L1356.9,264.5L1363.3,260.9L1370.4,258.1L1390.5,251.8L1399.2,248.5L1409.5,243.5L1429.0,232.6L1443.1,225.2L1453.2,220.3L1465.4,215.4L1497.5,203.7L1534.5,189.2L1548.1,183.1L1571.7,170.9L1586.7,164.3L1603.7,157.5L1675.3,129.8L1691.0,124.4L1711.7,118.4L1720.6,115.6L1763.6,99.5L1771.1,97.1L1776.4,95.9L1780.6,95.4L1790.0,95.0" stroke="#0000ff" stroke-width="4.6" fill="none" stroke-linejoin="round"/>
<path d="M587.2,811.4L599.0,759.2L609.2,737.0" stroke="#3f6428" stroke-width="4.2" fill="none" stroke-linejoin="round"/>
<path d="M609.2,737.0L616.7,723.6L621.1,716.6L624.7,712.0L635.4,699.9L639.5,694.1L642.6,688.8L649.7,675.0L652.7,669.6L668.8,644.3L679.5,625.9L684.4,618.3L687.4,614.3L690.8,610.6L705.4,596.9L711.5,590.0L719.2,579.8L737.0,554.4L752.4,534.5L758.8,527.2L765.1,520.7L772.9,513.7L781.7,506.4L792.3,498.6L797.8,495.2L812.0,487.0L820.7,481.2L825.6,477.4L828.6,474.5L830.4,472.2L832.5,468.7L835.9,462.0L838.1,458.5L840.7,455.6L843.1,454.0L845.8,452.8L848.7,451.9L862.5,449.5L868.4,447.9L877.7,444.6L908.6,432.9L916.3,429.5L922.5,426.4L957.6,406.6L967.9,401.6L979.6,397.2L1005.7,388.7L1016.4,385.0L1051.3,370.9L1061.5,367.0L1088.7,358.4L1098.2,355.0L1108.1,350.4L1129.1,338.6L1140.1,333.1L1153.6,327.5L1192.7,312.3L1231.3,294.9L1245.0,289.1L1255.8,285.0L1268.3,280.7L1313.3,266.6L1320.7,264.0L1347.7,252.7L1434.8,217.6L1451.8,211.2L1484.8,199.7L1499.3,194.1L1513.7,187.9L1547.8,171.8L1563.7,165.1L1578.9,159.5L1616.4,147.7L1633.5,141.6L1648.3,135.7L1681.5,121.4L1697.7,114.7L1715.5,108.1L1755.6,93.7L1769.5,88.4L1778.5,84.4L1789.4,78.5" stroke="#0b6b16" stroke-width="4.2" fill="none" stroke-linejoin="round"/>
<path d="M371.3,336.2H399.3M2266,336.2H2238M371.3,607.8H399.3M2266,607.8H2238M371.3,879.6H399.3M2266,879.6H2238M371.3,1151.4H399.3M2266,1151.4H2238M843.2,65.1V93.1M843.2,1421.9V1393.9M1317.2,65.1V93.1M1317.2,1421.9V1393.9M1790.8,65.1V93.1M1790.8,1421.9V1393.9" stroke="#000" stroke-width="9" fill="none"/>
<path d="M826,1264.5H860M843,1264.5V1277M1777,508H1806M1791.5,490V508" stroke="#ff0000" stroke-width="3.5" fill="none"/>
<circle cx="610" cy="1346" r="17" fill="#ff0000"/>
<circle cx="843" cy="1277.5" r="17" fill="#ff0000"/>
<circle cx="1319" cy="1042" r="17" fill="#ff0000"/>
<circle cx="1791.5" cy="489.5" r="17" fill="#ff0000"/>
<polygon points="601.5,1341.1 617.1,1341.1 623.7,1347.7 623.7,1363.3 617.1,1369.9 601.5,1369.9 594.9,1363.3 594.9,1347.7" fill="#fff" stroke="#0000ff" stroke-width="3.8"/>
<polygon points="834.2,1294.0 849.8,1294.0 856.4,1300.6 856.4,1316.2 849.8,1322.8 834.2,1322.8 827.6,1316.2 827.6,1300.6" fill="#fff" stroke="#0000ff" stroke-width="3.8"/>
<polygon points="1309.8,1107.6 1325.4,1107.6 1332.0,1114.2 1332.0,1129.8 1325.4,1136.4 1309.8,1136.4 1303.2,1129.8 1303.2,1114.2" fill="#fff" stroke="#0000ff" stroke-width="3.8"/>
<polygon points="1782.7,626.1 1798.3,626.1 1804.9,632.7 1804.9,648.3 1798.3,654.9 1782.7,654.9 1776.1,648.3 1776.1,632.7" fill="#fff" stroke="#0000ff" stroke-width="3.8"/>
<polygon points="609.5,1316.0 626.1,1332.6 609.5,1349.1999999999998 592.9,1332.6" fill="#fff" stroke="#0000ff" stroke-width="4.4"/>
<polygon points="843,1167.9 859.6,1184.5 843,1201.1 826.4,1184.5" fill="#fff" stroke="#0000ff" stroke-width="4.4"/>
<polygon points="1318.5,911.4 1335.1,928 1318.5,944.6 1301.9,928" fill="#fff" stroke="#0000ff" stroke-width="4.4"/>
<polygon points="1790.5,433.4 1807.1,450 1790.5,466.6 1773.9,450" fill="#fff" stroke="#0000ff" stroke-width="4.4"/>
<path d="M1779,419.5H1804M1791.5,419.5V440" stroke="#ff0000" stroke-width="3.5" fill="none"/>
<polygon points="610,1281.9 629.8,1303.4 610,1324.9 590.2,1303.4" fill="#ff0000"/>
<polygon points="843,1186.8 862.8,1208.3 843,1229.8 823.2,1208.3" fill="#ff0000"/>
<polygon points="1319,891.9 1338.8,913.4 1319,934.9 1299.2,913.4" fill="#ff0000"/>
<polygon points="1791.5,418.5 1811.3,440 1791.5,461.5 1771.7,440" fill="#ff0000"/>
<path d="M835,590H857M825,620.5H864M842,600V621M1300,303H1340M1318,290V313.5M1773,102H1811M1790,95V122M1782,115.5H1806" stroke="#0000ff" stroke-width="3.5" fill="none"/>
<polygon points="610.5,1122.5 626.3,1150 594.7,1150" fill="#fff" stroke="#0000ff" stroke-width="4.3"/>
<polygon points="842,591.1 857.8,616 826.2,616" fill="#fff" stroke="#0000ff" stroke-width="4.3"/>
<polygon points="1318,273.5 1333.8,300 1302.2,300" fill="#fff" stroke="#0000ff" stroke-width="4.3"/>
<polygon points="1790,73.5 1805.8,100 1774.2,100" fill="#fff" stroke="#0000ff" stroke-width="4.3"/>
<path d="M835,1003H857M842,1003V1015M1309,674.5H1336M1317.6,674.5V690M1780,268.3H1805M1791.4,268.3V318M1780,317.5H1805" stroke="#ff0000" stroke-width="3.5" fill="none"/>
<polygon points="610,1191.5 630,1223.4 590,1223.4" fill="#ff0000"/>
<polygon points="842,997 862,1027.5 822,1027.5" fill="#ff0000"/>
<polygon points="1317.6,675 1337.6,705 1297.6,705" fill="#ff0000"/>
<polygon points="1791.4,279.3 1811.4,307.9 1771.4,307.9" fill="#ff0000"/>
<path d="M592.5,721H623.5M596,752H630M826,438.5H856M841.5,438.5V455M825,470H864M1308,242H1336M1318,242V265M1302,279H1340M1789.4,62V79M1773,93H1808" stroke="#0b6b16" stroke-width="3.5" fill="none"/>
<rect x="595.2" y="723.5" width="28" height="27" fill="#fff" stroke="#0b6b16" stroke-width="4"/>
<rect x="827.5" y="441.5" width="28" height="27" fill="#fff" stroke="#0b6b16" stroke-width="4"/>
<rect x="1304.0" y="251.5" width="28" height="27" fill="#fff" stroke="#0b6b16" stroke-width="4"/>
<rect x="1775.4" y="65.0" width="28" height="27" fill="#fff" stroke="#0b6b16" stroke-width="4"/>
<path d="M366.3,59.49999999999999H2270.9V1426.6000000000001H366.3Z M376.3,70.69999999999999V1417.2H2261.1V70.69999999999999Z" fill="#000" fill-rule="evenodd"/>
<path d="M1321.5,427.8L1231.8,377.8" stroke="#000" stroke-width="6.3"/>
<polygon points="1208.2,365.7 1238.8,366.0 1224.9,389.5"/>
<path d="M1435.3,477.6L1444.9,568.6" stroke="#000" stroke-width="6.3"/>
<polygon points="1446.2,590.4 1431.6,569.8 1458.3,567.4"/>
<path d="M1936.0,344.8L1854.2,363.1" stroke="#000" stroke-width="6.3"/>
<polygon points="1826.9,366.6 1851.5,350.2 1857.0,376.1"/>
<path d="M1698.4,978.9L1583.0,838.9" stroke="#000" stroke-width="6.3"/>
<polygon points="1566.2,817.6 1594.0,831.0 1572.0,846.7"/>
<path d="M1696.0,1022.5L1563.7,986.8" stroke="#000" stroke-width="6.3"/>
<polygon points="1537.0,980.0 1567.4,974.0 1560.0,999.5"/>
<text transform="matrix(0.8366 0 0 0.8697 191.03 83.93)" clip-path="url(#k0)">100</text>
<text transform="matrix(0.8214 0 0 0.8648 239.91 355.24)">80</text>
<text transform="matrix(0.8510 0 0 0.8676 236.75 625.23)">60</text>
<text transform="matrix(0.8267 0 0 0.8718 239.35 897.13)">40</text>
<text transform="matrix(0.8480 0 0 0.8648 236.76 1169.24)">20</text>
<text transform="matrix(0.7979 0 0 0.8465 285.91 1440.15)">0</text>
<text transform="matrix(0.7979 0 0 0.8549 347.51 1507.15)">0</text>
<text transform="matrix(0.9833 0 0 0.9029 822.17 1509.00)" clip-path="url(#k1)">1</text>
<text transform="matrix(0.9457 0 0 0.8929 1291.27 1509.50)">2</text>
<text transform="matrix(0.8362 0 0 0.8690 1772.96 1507.23)">3</text>
<text transform="matrix(0.8137 0 0 0.9191 2243.67 1509.52)">4</text>
<text transform="matrix(0.8623 0 0 0.8489 1018.08 1640.97)">Thickness (mm)</text>
<text transform="matrix(0.7386 0 0 0.8141 1353.85 463.69)" clip-path="url(#k2)">0.1%</text>
<text transform="matrix(0.7332 0 0 0.8028 1970.87 365.40)">0.2%</text>
<text transform="matrix(0.7328 0 0 0.8314 1730.87 1050.97)" clip-path="url(#k3)">1%</text>
<text transform="matrix(0.7675 0 0 0.7826 609.16 563.80)" fill="#007000">PP</text>
<text transform="matrix(0 -0.8620 0.8521 0 81.61 937.40)">Haze (%)</text>
</svg>
</body></html>
